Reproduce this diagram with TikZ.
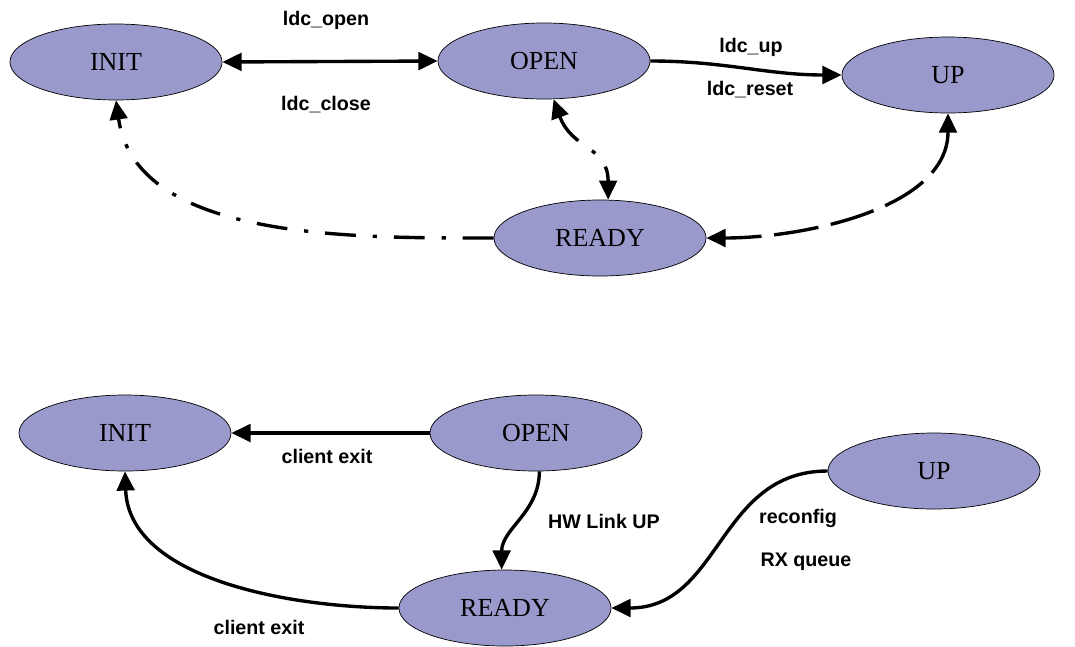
\documentclass[tikz,border=0pt]{standalone}
\usepackage{fontspec}
\setmainfont{Liberation Serif}
\setsansfont{Liberation Sans}
\usepackage{tikz}
\usetikzlibrary{shapes.geometric, arrows.meta}
\definecolor{statefill}{RGB}{153,153,204}
\tikzset{
  state/.style={ellipse, draw=black, fill=statefill, line width=0.5pt,
    minimum width=5.3cm, minimum height=1.9cm, inner sep=0pt,
    font=\fontsize{18.5}{20}\selectfont},
  lbl/.style={font=\sffamily\bfseries\fontsize{14}{16}\selectfont},
  arrow/.style={-{Triangle[length=0.48cm, width=0.44cm]}, line width=2.4pt, color=black},
  twoarrow/.style={{Triangle[length=0.48cm, width=0.44cm]}-{Triangle[length=0.48cm, width=0.44cm]}, line width=2.4pt, color=black},
  dashdotline/.style={dash pattern=on 22pt off 12pt on 3pt off 12pt},
  longdash/.style={dash pattern=on 32pt off 9pt}
}
\begin{document}
\begin{tikzpicture}[x=0.025cm, y=-0.025cm]
  \useasboundingbox (0,0) rectangle (1075,646);

  % top diagram
  \node[state] (init1) at (116,62) {INIT};
  \node[state] (open1) at (544,61) {OPEN};
  \node[state] (up1) at (948,75) {UP};
  \node[state] (ready1) at (600,238) {READY};

  \node[lbl] (lopen) at (326,20) {ldc\_open};
  \node[lbl] (lclose) at (326,105) {ldc\_close};
  \node[lbl] (lup) at (751,47) {ldc\_up};
  \node[lbl] (lreset) at (750,90) {ldc\_reset};

  \draw[twoarrow] (init1.east) -- (open1.west);
  \draw[arrow] (open1.east) to[out=0, in=180] (up1.west);
  \draw[arrow, dashdotline] (ready1.west) to[out=180, in=-82, looseness=0.9] (init1.south);
  \draw[twoarrow, dashdotline] (open1.-76) to[out=-70, in=90, looseness=1.2] (ready1.78);
  \draw[twoarrow, longdash] (up1.south) to[out=-90, in=0, looseness=0.9] (ready1.east);

  % bottom diagram
  \node[state] (init2) at (125,433) {INIT};
  \node[state] (open2) at (536,433) {OPEN};
  \node[state] (up2) at (934,471) {UP};
  \node[state] (ready2) at (505,608) {READY};

  \node[lbl] (lexit1) at (327,456) {client exit};
  \node[lbl] (lexit2) at (259,627) {client exit};
  \node[lbl] (lhw) at (604,521) {HW Link UP};
  \node[lbl] (lreconf) at (798,518) {reconfig};
  \node[lbl] (lrx) at (806,562) {RX queue};

  \draw[arrow] (open2.west) -- (init2.east);
  \draw[arrow] (open2.-85) to[out=-90, in=90] (ready2.95);
  \draw[arrow] (ready2.west) to[out=180, in=-88, looseness=0.9] (init2.south);
  \draw[arrow] (up2.west) to[out=180, in=0, looseness=1.1] (ready2.east);
\end{tikzpicture}
\end{document}
